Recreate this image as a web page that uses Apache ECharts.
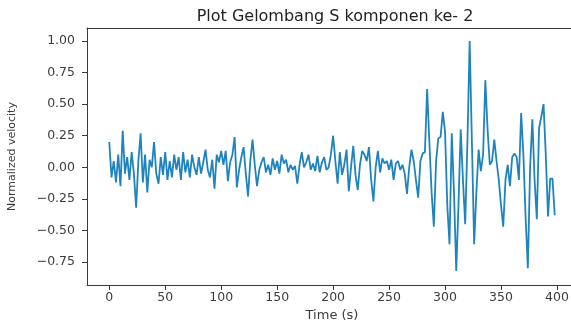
<!DOCTYPE html>
<html>
<head>
<meta charset="utf-8">
<script src="https://cdn.jsdelivr.net/npm/echarts@6/dist/echarts.min.js"></script>
<style>
  html, body { margin: 0; padding: 0; background: #fff; overflow: hidden; }
  #chart { width: 571px; height: 324px; }
</style>
</head>
<body>
<div id="chart"></div>
<script>
// S-wave trace, component 2: one sample every 2 s from 0 to 398 s
const sampleStep = 2;
const velocity = [
  0.20, -0.08, 0.05, -0.12, 0.10, -0.15, 0.29, -0.05, 0.08, -0.10,
  0.12, -0.05, -0.32, 0.05, 0.27, -0.12, 0.10, -0.20, 0.06, 0.00,
  0.20, -0.05, -0.13, 0.08, -0.06, 0.12, -0.10, 0.05, -0.08, 0.10,
  -0.02, 0.08, -0.10, 0.12, -0.04, 0.06, -0.08, 0.10, 0.00, -0.06,
  0.08, -0.05, 0.04, 0.14, -0.02, -0.08, 0.06, -0.17, 0.10, 0.04,
  0.13, 0.02, 0.13, -0.11, 0.04, 0.10, 0.24, -0.16, -0.02, 0.08,
  0.16, -0.05, -0.23, 0.05, 0.22, 0.02, -0.15, -0.02, 0.04, 0.08,
  -0.04, 0.02, -0.06, 0.07, -0.02, 0.05, -0.05, 0.10, 0.03, 0.06,
  -0.04, 0.02, -0.02, 0.01, -0.13, 0.02, 0.12, 0.00, 0.04, 0.10,
  -0.02, 0.03, -0.03, 0.09, -0.04, 0.04, 0.08, -0.02, 0.00, 0.10,
  0.25, 0.05, -0.13, 0.12, -0.06, 0.02, 0.14, -0.19, 0.00, 0.17,
  -0.06, -0.18, 0.02, 0.13, 0.10, 0.05, 0.16, -0.10, -0.27, 0.00,
  0.13, -0.04, 0.07, 0.03, 0.05, -0.02, 0.06, -0.10, 0.03, 0.05,
  -0.02, 0.02, -0.05, -0.21, 0.00, 0.14, 0.05, -0.10, -0.24, 0.05,
  0.11, 0.12, 0.62, 0.20, -0.20, -0.47, 0.05, 0.23, 0.24, 0.44,
  0.28, -0.30, -0.61, 0.27, -0.20, -0.82, -0.30, 0.30, -0.10, -0.45,
  0.20, 1.00, 0.20, -0.61, -0.20, 0.14, -0.03, 0.10, 0.69, 0.30,
  0.02, 0.05, 0.22, 0.05, -0.10, -0.30, -0.47, -0.10, 0.02, -0.15,
  0.08, 0.11, 0.08, -0.10, 0.43, 0.10, -0.40, -0.80, 0.00, 0.38,
  -0.10, -0.41, 0.31, 0.40, 0.50, 0.10, -0.39, -0.09, -0.09, -0.38
];
const timeTicks = [0, 50, 100, 150, 200, 250, 300, 350, 400];
const velocityTicks = [-0.75, -0.5, -0.25, 0, 0.25, 0.5, 0.75, 1.0];

const points = velocity.map((v, i) => [i * sampleStep, v]);

const axisColor = '#3a3a3a';
const textColor = '#3d3d3d';
const font = 'DejaVu Sans';
const xMin = -19.9, xMax = 417.9;

const chart = echarts.init(document.getElementById('chart'), null, { renderer: 'canvas' });
chart.setOption({
  animation: false,
  backgroundColor: '#ffffff',
  title: {
    text: 'Plot Gelombang S komponen ke- 2',
    left: 330,
    top: 4,
    textAlign: 'center',
    textStyle: { fontFamily: font, fontSize: 16, fontWeight: 'normal', color: '#222' }
  },
  // the axes box runs a few pixels past the right edge of the canvas
  grid: { left: 87, top: 28, right: -6, height: 257, show: false, outerBoundsMode: 'none', containLabel: false },
  xAxis: [{
    type: 'value',
    min: xMin, max: xMax,
    name: 'Time (s)',
    nameLocation: 'middle',
    nameGap: 23,
    nameTextStyle: { fontFamily: font, fontSize: 13, color: textColor },
    splitLine: { show: false },
    axisLine: { show: true, onZero: false, lineStyle: { color: axisColor, width: 1 } },
    axisTick: { show: true, length: 5, lineStyle: { color: axisColor }, customValues: timeTicks },
    axisLabel: {
      fontFamily: font, fontSize: 12.5, color: textColor, margin: 6,
      customValues: timeTicks,
      formatter: v => String(v)
    }
  }, {
    // top frame line of the axes box
    type: 'value',
    position: 'top',
    min: xMin, max: xMax,
    splitLine: { show: false },
    axisLine: { show: true, onZero: false, lineStyle: { color: axisColor, width: 1 } },
    axisTick: { show: false },
    axisLabel: { show: false }
  }],
  yAxis: {
    type: 'value',
    min: -0.932, max: 1.103,
    name: 'Normalized velocity',
    nameLocation: 'middle',
    nameGap: 69,
    nameRotate: 90,
    nameTextStyle: { fontFamily: font, fontSize: 11, color: textColor },
    splitLine: { show: false },
    axisLine: { show: true, onZero: false, lineStyle: { color: axisColor, width: 1 } },
    axisTick: { show: true, length: 5, lineStyle: { color: axisColor }, customValues: velocityTicks },
    axisLabel: {
      fontFamily: font, fontSize: 12.5, color: textColor, margin: 12,
      customValues: velocityTicks,
      formatter: v => (v < 0 ? '\u2212' : '') + Math.abs(v).toFixed(2)
    }
  },
  series: [{
    type: 'line',
    xAxisIndex: 0,
    data: points,
    showSymbol: false,
    symbol: 'none',
    lineStyle: { color: '#1f84bd', width: 1.8 },
    clip: true
  }]
});
</script>
</body>
</html>
